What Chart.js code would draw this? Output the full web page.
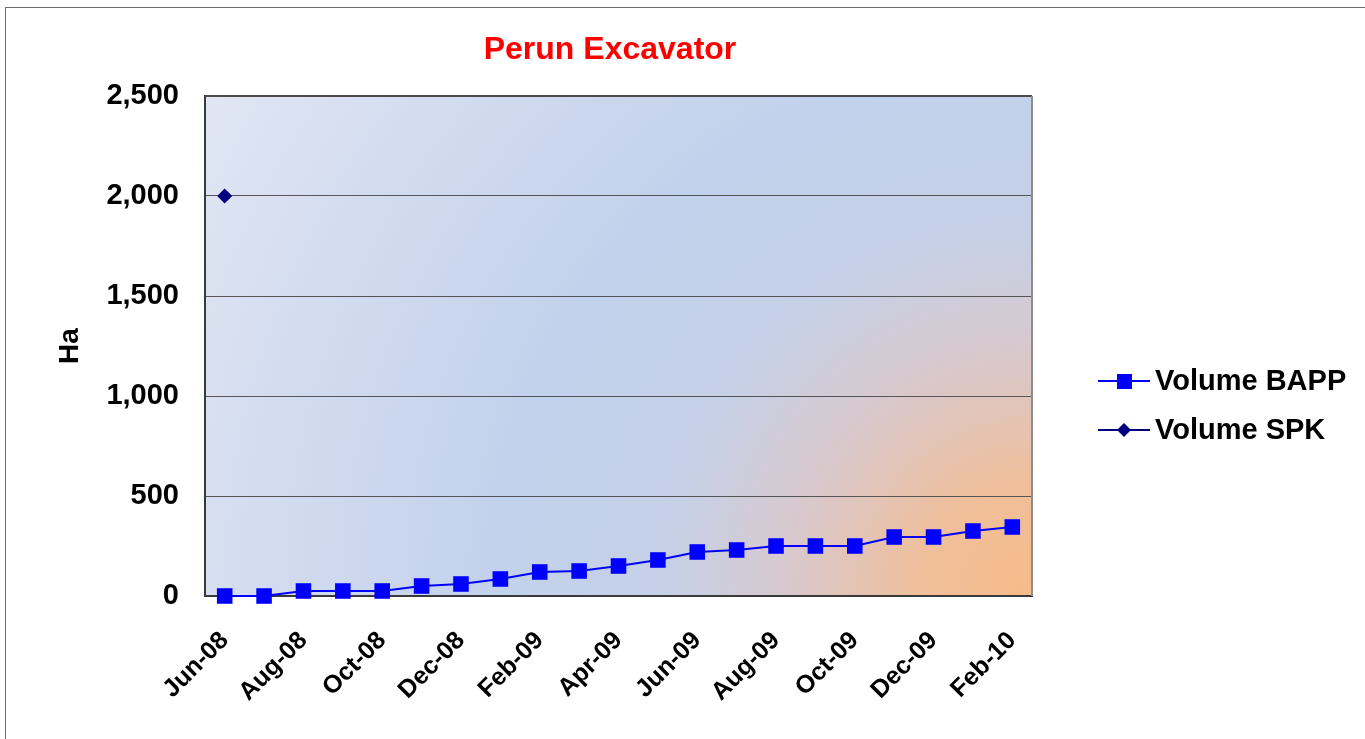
<!DOCTYPE html>
<html>
<head>
<meta charset="utf-8">
<title>Perun Excavator</title>
<script src="https://cdn.jsdelivr.net/npm/chart.js@4/dist/chart.umd.min.js"></script>
<style>
  html, body { margin: 0; padding: 0; background: #fff; }
  #wrap { width: 1365px; height: 739px; }
</style>
</head>
<body>
<div id="wrap"><canvas id="lineChart" width="1365" height="739"></canvas></div>
<script>
// data
const months = [
  "Jun-08", "Jul-08", "Aug-08", "Sep-08", "Oct-08", "Nov-08", "Dec-08",
  "Jan-09", "Feb-09", "Mar-09", "Apr-09", "May-09", "Jun-09", "Jul-09",
  "Aug-09", "Sep-09", "Oct-09", "Nov-09", "Dec-09", "Jan-10", "Feb-10"
];
const volumeBapp = [0, 0, 25, 25, 25, 50, 60, 85, 120, 125, 150, 180, 220, 230, 250, 250, 250, 295, 295, 325, 345];
const volumeSpk = [2000, null, null, null, null, null, null, null, null, null, null, null, null, null, null, null, null, null, null, null, null];
const yTicks = [0, 500, 1000, 1500, 2000, 2500];

const FONT = "'Liberation Sans', Arial, sans-serif";

// white page, outer frame and the gradient plot background
const backgroundPlugin = {
  id: "background",
  beforeDraw(chart) {
    const ctx = chart.ctx;
    const a = chart.chartArea;
    ctx.save();
    ctx.fillStyle = "#ffffff";
    ctx.fillRect(0, 0, chart.width, chart.height);
    ctx.strokeStyle = "#6e6e6e";
    ctx.lineWidth = 1;
    ctx.strokeRect(5.5, 7.5, chart.width + 20, chart.height + 20);

    const r = Math.hypot(a.right - a.left, a.bottom - a.top);
    const g = ctx.createRadialGradient(a.right, a.bottom, 0, a.right, a.bottom, r);
    g.addColorStop(0, "#f8bb88");
    g.addColorStop(0.12, "#efbf9c");
    g.addColorStop(0.25, "#d9c8cc");
    g.addColorStop(0.38, "#c5d0e7");
    g.addColorStop(0.55, "#c2d1ec");
    g.addColorStop(0.75, "#d0daef");
    g.addColorStop(1, "#e0e6f3");
    ctx.fillStyle = g;
    ctx.fillRect(a.left, a.top, a.right - a.left, a.bottom - a.top);
    ctx.restore();
  },
  afterDraw(chart) {
    const ctx = chart.ctx;
    const a = chart.chartArea;
    ctx.save();
    ctx.lineWidth = 2;
    ctx.strokeStyle = "#4a4a4a";
    ctx.beginPath();
    ctx.moveTo(a.left, a.top);
    ctx.lineTo(a.right, a.top);
    ctx.stroke();
    ctx.strokeStyle = "#8c8c8c";
    ctx.beginPath();
    ctx.moveTo(a.right, a.top);
    ctx.lineTo(a.right, a.bottom);
    ctx.stroke();

    // title
    ctx.fillStyle = "#ff0000";
    ctx.font = "bold 32px " + FONT;
    ctx.textAlign = "center";
    ctx.textBaseline = "middle";
    ctx.fillText("Perun Excavator", 610, 50);

    // legend
    const items = [
      { text: "Volume BAPP", color: "#0000ff", shape: "square", y: 381 },
      { text: "Volume SPK", color: "#000080", shape: "diamond", y: 430 }
    ];
    ctx.font = "bold 29px " + FONT;
    ctx.textAlign = "left";
    items.forEach(function (it) {
      ctx.strokeStyle = it.color;
      ctx.fillStyle = it.color;
      ctx.lineWidth = 2;
      ctx.beginPath();
      ctx.moveTo(1098, it.y);
      ctx.lineTo(1150, it.y);
      ctx.stroke();
      if (it.shape === "square") {
        ctx.fillRect(1117, it.y - 7, 15, 15);
      } else {
        ctx.beginPath();
        ctx.moveTo(1124 - 7, it.y);
        ctx.lineTo(1124, it.y - 7);
        ctx.lineTo(1124 + 7, it.y);
        ctx.lineTo(1124, it.y + 7);
        ctx.closePath();
        ctx.fill();
      }
      ctx.fillStyle = "#000000";
      ctx.fillText(it.text, 1155, it.y + 1);
    });
    ctx.restore();
  }
};

new Chart(document.getElementById("lineChart"), {
  type: "line",
  data: {
    labels: months,
    datasets: [
      {
        label: "Volume BAPP",
        data: volumeBapp,
        borderColor: "#0000ff",
        backgroundColor: "#0000ff",
        borderWidth: 2,
        pointStyle: "rect",
        pointRadius: 11,
        pointHoverRadius: 11,
        pointBorderWidth: 0,
        tension: 0,
        clip: false
      },
      {
        label: "Volume SPK",
        data: volumeSpk,
        borderColor: "#000080",
        backgroundColor: "#000080",
        borderWidth: 2,
        pointStyle: "rectRot",
        pointRadius: 7.5,
        pointHoverRadius: 7.5,
        pointBorderWidth: 0,
        spanGaps: false,
        clip: false
      }
    ]
  },
  options: {
    responsive: false,
    animation: false,
    layout: {
      padding: { left: 0, right: 333, top: 96, bottom: 0 }
    },
    plugins: {
      legend: { display: false },
      title: { display: false },
      tooltip: { enabled: false }
    },
    scales: {
      x: {
        offset: true,
        grid: { display: false, drawTicks: false },
        border: { display: true, color: "#3a3a3a", width: 2 },
        ticks: {
          autoSkip: false,
          maxRotation: 45,
          minRotation: 45,
          padding: 30,
          color: "#000000",
          font: { family: FONT, size: 25, weight: "bold" },
          callback: function (value, index) {
            return index % 2 === 0 ? months[index] : "";
          }
        },
        afterFit: function (scale) {
          scale.height = 739 - 596;
        }
      },
      y: {
        min: 0,
        max: 2500,
        afterBuildTicks: function (scale) {
          scale.ticks = yTicks.map(function (v) { return { value: v }; });
        },
        grid: { color: "#555555", lineWidth: 1, drawTicks: false },
        border: { display: true, color: "#3a3a3a", width: 2 },
        ticks: {
          padding: 26,
          color: "#000000",
          font: { family: FONT, size: 29, weight: "bold" },
          callback: function (value) {
            return value.toLocaleString("en-US");
          }
        },
        title: {
          display: true,
          text: "Ha",
          color: "#000000",
          font: { family: FONT, size: 28, weight: "bold" },
          padding: { top: 53, bottom: 0 }
        },
        afterFit: function (scale) {
          scale.width = 205;
        }
      }
    }
  },
  plugins: [backgroundPlugin]
});
</script>
</body>
</html>
